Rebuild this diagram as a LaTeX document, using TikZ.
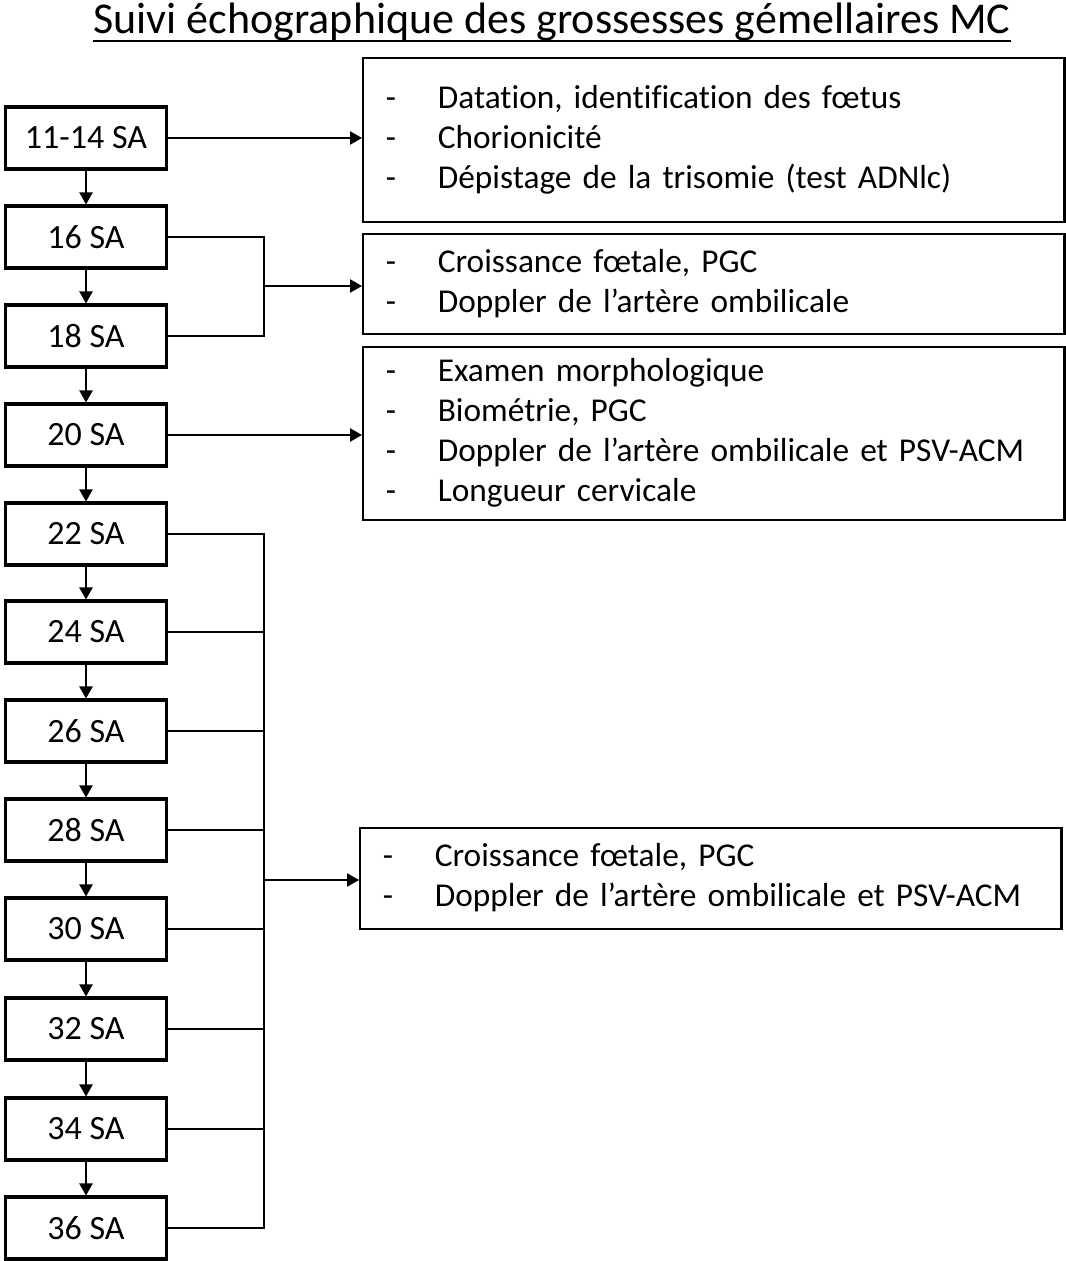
\documentclass[tikz,border=0pt]{standalone}
\usepackage{fontspec}
\setmainfont{Carlito}[Ligatures=NoCommon]
\usetikzlibrary{arrows.meta}

\tikzset{
  week/.style={draw, line width=2.4pt, minimum width=120.75pt, minimum height=46.5pt,
    inner sep=0pt, font=\fontsize{25.5}{30}\selectfont},
  exam/.style={draw, line width=1.8pt, anchor=west, align=left, inner xsep=17pt,
    inner ysep=0pt, minimum width=526pt, text width=492pt, font=\fontsize{25}{30}\selectfont},
  link/.style={line width=1pt},
  flow/.style={link, -{Triangle[width=10pt,length=9pt]}}
}

\newcommand{\dashlist}[1]{\begin{tabular}{@{}p{39pt}@{}l@{}}#1\end{tabular}}

\begin{document}
\begin{tikzpicture}[x=0.75pt,y=-0.75pt]
        \useasboundingbox (0,0) rectangle (1065,1261);

        \node[inner sep=0pt, anchor=base, font=\fontsize{33}{38}\selectfont] (title) at (552,33) {Suivi échographique des grossesses gémellaires MC};
        \draw[line width=1.9pt] (title.west |- 0,41) -- (title.east |- 0,41);

        \begin{scope}[every node/.style={week}]
          \node (w1)  at (86,138)  {11-14 SA};
          \node (w2)  at (86,237)  {16 SA};
          \node (w3)  at (86,336)  {18 SA};
          \node (w4)  at (86,435)  {20 SA};
          \node (w5)  at (86,534)  {22 SA};
          \node (w6)  at (86,632)  {24 SA};
          \node (w7)  at (86,731)  {26 SA};
          \node (w8)  at (86,830)  {28 SA};
          \node (w9)  at (86,929)  {30 SA};
          \node (w10) at (86,1029) {32 SA};
          \node (w11) at (86,1129) {34 SA};
          \node (w12) at (86,1228) {36 SA};
        \end{scope}

        \begin{scope}[every node/.style={exam}]
          \node[minimum height=123pt] (ex1) at (362,140) {\dashlist{
            - & Datation, identification des fœtus\\
            - & Chorionicité\\
            - & Dépistage de la trisomie (test ADNlc)}};
          \node[minimum height=75pt] (ex2) at (362,284) {\dashlist{
            - & Croissance fœtale, PGC\\
            - & Doppler de l’artère ombilicale}};
          \node[minimum height=130pt] (ex3) at (362,433.5) {\dashlist{
            - & Examen morphologique\\
            - & Biométrie, PGC\\
            - & Doppler de l’artère ombilicale et PSV-ACM\\
            - & Longueur cervicale}};
          \node[minimum height=76pt] (ex4) at (359,878.5) {\dashlist{
            - & Croissance fœtale, PGC\\
            - & Doppler de l’artère ombilicale et PSV-ACM}};
        \end{scope}

        \coordinate (j1) at (264,286);
        \coordinate (j2) at (264,880);

        \begin{scope}[every edge/.style={draw, flow}]
          \path (w1)  edge (w2);
          \path (w2)  edge (w3);
          \path (w3)  edge (w4);
          \path (w4)  edge (w5);
          \path (w5)  edge (w6);
          \path (w6)  edge (w7);
          \path (w7)  edge (w8);
          \path (w8)  edge (w9);
          \path (w9)  edge (w10);
          \path (w10) edge (w11);
          \path (w11) edge (w12);
          \path (w1.east) edge (w1.east -| ex1.west);
          \path (j1) edge (j1 -| ex2.west);
          \path (w4.east) edge (w4.east -| ex3.west);
          \path (j2) edge (j2 -| ex4.west);
        \end{scope}

        \begin{scope}[every path/.style={link}]
          \draw (w2.east) -| (j1) |- (w3.east);
          \draw (w5.east) -| (j2 |- w12.east) -- (w12.east);
          \draw (w6.east)  -- (w6.east -| j2);
          \draw (w7.east)  -- (w7.east -| j2);
          \draw (w8.east)  -- (w8.east -| j2);
          \draw (w9.east)  -- (w9.east -| j2);
          \draw (w10.east) -- (w10.east -| j2);
          \draw (w11.east) -- (w11.east -| j2);
        \end{scope}

      \end{tikzpicture}
\end{document}
